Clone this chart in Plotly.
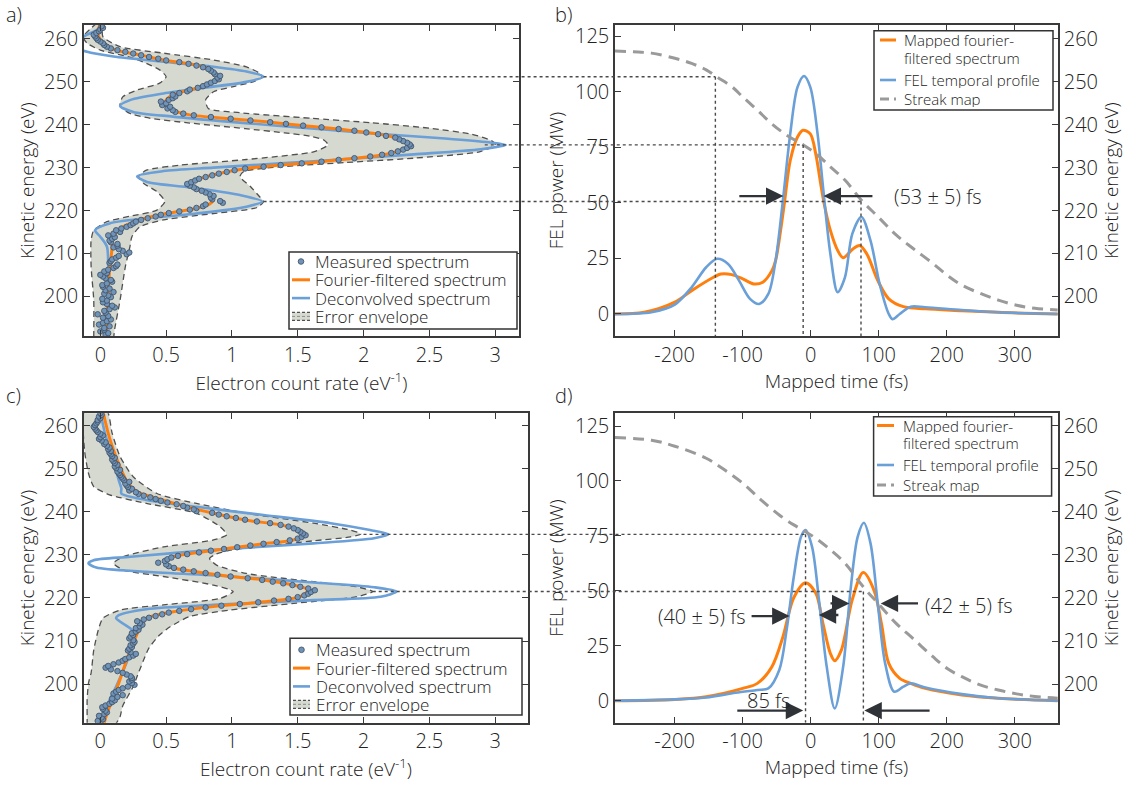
import plotly.graph_objects as go

W, H = 1133, 786

# ---------------- measured spectra (energy grid shared by both shots) ----------------
meas_energy = [
    191.0, 191.4, 191.8, 192.2, 192.6, 193.0, 193.4, 193.8, 194.2, 194.6,
    195.0, 195.4, 195.8, 196.2, 196.6, 197.0, 197.4, 197.8, 198.2, 198.6,
    199.0, 199.4, 199.8, 200.2, 200.6, 201.0, 201.4, 201.8, 202.2, 202.6,
    203.0, 203.4, 203.8, 204.2, 204.6, 205.0, 205.4, 205.8, 206.2, 206.6,
    207.0, 207.4, 207.8, 208.2, 208.6, 209.0, 209.4, 209.8, 210.2, 210.6,
    211.0, 211.4, 211.8, 212.2, 212.6, 213.0, 213.4, 213.8, 214.2, 214.6,
    215.0, 215.4, 215.8, 216.2, 216.6, 217.0, 217.4, 217.8, 218.2, 218.6,
    219.0, 219.4, 219.8, 220.2, 220.6, 221.0, 221.4, 221.8, 222.2, 222.6,
    223.0, 223.4, 223.8, 224.2, 224.6, 225.0, 225.4, 225.8, 226.2, 226.6,
    227.0, 227.4, 227.8, 228.2, 228.6, 229.0, 229.4, 229.8, 230.2, 230.6,
    231.0, 231.4, 231.8, 232.2, 232.6, 233.0, 233.4, 233.8, 234.2, 234.6,
    235.0, 235.4, 235.8, 236.2, 236.6, 237.0, 237.4, 237.8, 238.2, 238.6,
    239.0, 239.4, 239.8, 240.2, 240.6, 241.0, 241.4, 241.8, 242.2, 242.6,
    243.0, 243.4, 243.8, 244.2, 244.6, 245.0, 245.4, 245.8, 246.2, 246.6,
    247.0, 247.4, 247.8, 248.2, 248.6, 249.0, 249.4, 249.8, 250.2, 250.6,
    251.0, 251.4, 251.8, 252.2, 252.6, 253.0, 253.4, 253.8, 254.2, 254.6,
    255.0, 255.4, 255.8, 256.2, 256.6, 257.0, 257.4, 257.8, 258.2, 258.6,
    259.0, 259.4, 259.8, 260.2, 260.6, 261.0, 261.4, 261.8, 262.2, 262.6,
    263.0,
]
meas_rate_a = [
    0.04, 0.06, 0.00, 0.03, 0.03, 0.07, -0.01, 0.02, 0.05, 0.08,
    0.02, 0.06, -0.02, 0.04, 0.03, 0.07, 0.11, 0.09, 0.05, 0.02,
    0.05, 0.015, 0.08, 0.06, 0.03, 0.10, 0.04, 0.07, 0.02, 0.015,
    0.05, 0.09, 0.08, 0.04, 0.02, 0.00, 0.05, 0.03, 0.06, 0.10,
    0.12, 0.13, 0.07, 0.08, 0.09, 0.12, 0.14, 0.20, 0.22, 0.17,
    0.14, 0.10, 0.13, 0.13, 0.08, 0.07, 0.09, 0.11, 0.06, 0.10,
    0.15, 0.12, 0.16, 0.20, 0.23, 0.25, 0.27, 0.31, 0.36, 0.42,
    0.46, 0.52, 0.60, 0.68, 0.73, 0.78, 0.80, 0.93, 0.91, 0.85,
    0.84, 0.86, 0.83, 0.80, 0.77, 0.73, 0.71, 0.68, 0.66, 0.69,
    0.72, 0.75, 0.80, 0.85, 0.90, 0.96, 1.02, 1.10, 1.24, 1.37,
    1.53, 1.68, 1.81, 1.93, 2.05, 2.14, 2.21, 2.26, 2.30, 2.33,
    2.36, 2.35, 2.33, 2.30, 2.27, 2.24, 2.17, 2.11, 2.02, 1.93,
    1.81, 1.68, 1.54, 1.41, 1.29, 1.14, 0.99, 0.84, 0.71, 0.63,
    0.57, 0.55, 0.51, 0.53, 0.47, 0.50, 0.46, 0.52, 0.55, 0.57,
    0.55, 0.60, 0.66, 0.68, 0.74, 0.78, 0.81, 0.84, 0.87, 0.90,
    0.89, 0.91, 0.87, 0.86, 0.84, 0.82, 0.78, 0.73, 0.67, 0.60,
    0.50, 0.44, 0.37, 0.31, 0.25, 0.19, 0.13, 0.08, 0.05, 0.03,
    0.02, 0.00, -0.02, -0.03, -0.04, -0.05, -0.03, -0.01, 0.00, 0.02,
    0.01,
]
meas_rate_c = [
    0.00, -0.02, 0.02, 0.01, -0.01, 0.03, 0.05, 0.04, 0.02, 0.015,
    0.04, 0.07, 0.09, 0.11, 0.09, 0.13, 0.17, 0.10, 0.12, 0.14,
    0.17, 0.21, 0.26, 0.24, 0.22, 0.24, 0.24, 0.23, 0.20, 0.17,
    0.13, 0.08, 0.04, 0.06, 0.10, 0.14, 0.17, 0.19, 0.22, 0.25,
    0.27, 0.23, 0.21, 0.22, 0.24, 0.23, 0.25, 0.26, 0.25, 0.22,
    0.23, 0.25, 0.24, 0.27, 0.29, 0.27, 0.30, 0.32, 0.30, 0.28,
    0.33, 0.37, 0.42, 0.47, 0.52, 0.60, 0.69, 0.80, 0.92, 1.06,
    1.20, 1.32, 1.43, 1.50, 1.55, 1.58, 1.60, 1.63, 1.58, 1.52,
    1.46, 1.39, 1.31, 1.23, 1.12, 0.99, 0.89, 0.80, 0.71, 0.63,
    0.56, 0.52, 0.50, 0.44, 0.49, 0.51, 0.54, 0.59, 0.66, 0.75,
    0.84, 0.94, 1.04, 1.14, 1.24, 1.34, 1.44, 1.50, 1.53, 1.56,
    1.54, 1.52, 1.50, 1.47, 1.43, 1.37, 1.29, 1.19, 1.10, 1.03,
    0.96, 0.90, 0.85, 0.73, 0.71, 0.66, 0.63, 0.58, 0.51, 0.46,
    0.42, 0.38, 0.33, 0.29, 0.27, 0.22, 0.24, 0.21, 0.20, 0.19,
    0.22, 0.18, 0.17, 0.16, 0.15, 0.14, 0.13, 0.15, 0.12, 0.11,
    0.13, 0.11, 0.10, 0.09, 0.11, 0.09, 0.08, 0.07, 0.08, 0.06,
    0.07, 0.05, 0.03, 0.04, 0.01, -0.01, 0.00, 0.02, 0.00, -0.02,
    -0.03, -0.04, -0.05, -0.04, -0.03, -0.02, -0.02, 0.00, -0.01, 0.01,
    0.00,
]

# ---------------- shot 1: filtered / deconvolved spectra and error bounds ----------------
ff_a_energy = [190.5, 196.0, 201.0, 206.0, 210.0, 213.9, 215.8, 217.8, 219.3, 220.5,
               221.5, 222.6, 224.0, 225.2, 226.3, 227.5, 228.7, 229.8, 230.6, 231.2,
               232.0, 232.9, 234.0, 235.3, 236.1, 237.1, 238.0, 238.8, 239.7, 240.7,
               241.4, 242.3, 243.4, 244.5, 245.8, 247.3, 248.5, 250.0, 251.6, 253.2,
               254.3, 255.1, 256.3, 257.4, 259.0, 261.3, 263.6]
ff_a_rate = [0.045, 0.05, 0.06, 0.07, 0.085, 0.10, 0.15, 0.30, 0.50, 0.73,
             0.83, 0.86, 0.81, 0.71, 0.68, 0.76, 0.91, 1.11, 1.37, 1.62,
             1.87, 2.13, 2.28, 2.35, 2.31, 2.23, 2.07, 1.87, 1.57, 1.26,
             0.985, 0.68, 0.55, 0.50, 0.50, 0.58, 0.73, 0.86, 0.88, 0.81,
             0.66, 0.48, 0.30, 0.12, 0.02, -0.02, 0.0]

dec_a_energy = [190.5, 199.0, 207.0, 211.6, 213.9, 215.4, 217.0, 218.2, 219.3, 220.9,
                222.1, 223.6, 225.2, 226.7, 228.0, 229.2, 230.0, 231.0, 232.0, 233.1,
                234.3, 235.3, 235.9, 236.8, 237.8, 238.9, 239.9, 240.9, 241.9, 243.0,
                244.4, 245.8, 247.3, 248.7, 250.0, 251.2, 252.4, 253.5, 254.7, 255.9,
                257.0, 258.3, 259.8, 261.0, 262.3, 263.6]
dec_a_rate = [0.05, 0.06, 0.06, 0.05, 0.0, -0.04, 0.07, 0.35, 0.73, 1.11,
              1.23, 1.06, 0.73, 0.35, 0.28, 0.48, 0.86, 1.37, 1.87, 2.38,
              2.89, 3.08, 2.95, 2.62, 2.15, 1.70, 1.30, 0.90, 0.55, 0.25,
              0.15, 0.23, 0.48, 0.81, 1.11, 1.24, 1.11, 0.86, 0.48, 0.10,
              -0.10, -0.19, -0.17, -0.10, -0.02, 0.01]

env_a_hi_energy = [190.0, 192.5, 199.1, 206.9, 211.6, 213.9, 216.2, 217.8, 219.3, 220.7,
                   222.1, 223.2, 225.6, 227.9, 229.1, 230.2, 231.2, 232.2, 233.7, 235.3,
                   236.3, 237.8, 239.2, 240.5, 241.5, 242.8, 243.8, 245.8, 247.7, 248.9,
                   250.0, 251.1, 252.0, 253.5, 255.1, 256.7, 258.2, 260.5, 263.8]
env_a_hi_rate = [0.10, 0.11, 0.15, 0.19, 0.225, 0.24, 0.30, 0.48, 0.86, 1.19,
                 1.24, 1.21, 1.14, 1.06, 1.09, 1.37, 1.87, 2.38, 2.88, 3.00,
                 2.97, 2.82, 2.50, 2.05, 1.60, 1.06, 0.82, 0.80, 0.86, 1.01,
                 1.16, 1.23, 1.21, 1.11, 0.86, 0.48, 0.15, 0.02, 0.01]
env_a_lo_energy = [190.0, 199.1, 206.9, 213.1, 215.4, 217.4, 218.7, 220.1, 222.1, 224.4,
                   226.3, 227.9, 229.4, 230.6, 231.9, 233.7, 235.3, 236.4, 237.3, 238.1,
                   239.1, 240.4, 241.5, 242.7, 244.5, 246.5, 248.1, 249.7, 251.2, 252.8,
                   254.3, 255.7, 257.4, 259.0, 260.5, 262.5, 263.8]
env_a_lo_rate = [-0.05, -0.05, -0.07, -0.07, -0.05, 0.05, 0.23, 0.43, 0.49, 0.43,
                 0.33, 0.29, 0.35, 0.61, 1.11, 1.62, 1.73, 1.70, 1.60, 1.40,
                 1.10, 0.68, 0.38, 0.22, 0.15, 0.17, 0.28, 0.45, 0.50, 0.45,
                 0.35, 0.23, 0.0, -0.10, -0.13, -0.07, -0.02]

# ---------------- shot 2: filtered / deconvolved spectra and error bounds ----------------
ff_c_energy = [190.5, 191.6, 196.3, 200.2, 205.6, 210.2, 213.7, 215.3, 216.8, 218.0,
               219.1, 220.3, 221.9, 223.0, 224.2, 225.0, 226.1, 227.3, 228.4, 229.6,
               230.5, 231.6, 232.6, 233.5, 234.7, 236.0, 237.0, 238.1, 239.7, 241.6,
               243.2, 244.7, 246.7, 250.5, 254.4, 258.3, 263.4]
ff_c_rate = [0.03, 0.035, 0.09, 0.14, 0.20, 0.26, 0.31, 0.35, 0.555, 0.86,
             1.24, 1.52, 1.58, 1.47, 1.24, 0.99, 0.73, 0.52, 0.49, 0.555,
             0.73, 0.99, 1.24, 1.47, 1.54, 1.49, 1.37, 1.11, 0.86, 0.61,
             0.43, 0.28, 0.21, 0.15, 0.10, 0.06, 0.02]

dec_c_energy = [190.5, 191.6, 196.3, 199.4, 207.1, 212.2, 213.7, 215.3, 216.0, 217.4,
                218.4, 219.5, 220.3, 221.5, 222.5, 223.6, 225.0, 226.1, 227.1, 228.1,
                228.8, 229.6, 231.2, 232.7, 233.9, 234.8, 235.8, 237.4, 239.3, 241.2,
                242.8, 244.3, 245.5, 247.4, 252.1, 258.3, 263.4]
dec_c_rate = [0.01, 0.02, 0.07, 0.12, 0.225, 0.25, 0.19, 0.12, 0.14, 0.35,
              0.86, 1.62, 2.13, 2.25, 2.08, 1.62, 0.99, 0.35, -0.03, -0.09,
              -0.05, 0.23, 0.86, 1.62, 2.08, 2.19, 2.05, 1.75, 1.24, 0.73,
              0.35, 0.16, 0.16, 0.14, 0.10, 0.035, 0.0]

env_c_hi_energy = [190.3, 192.4, 194.9, 199.4, 201.8, 206.4, 208.4, 211.4, 213.3, 215.7,
                   217.2, 218.8, 220.3, 221.5, 222.6, 223.8, 225.7, 227.7, 229.2, 230.2,
                   231.2, 232.0, 233.3, 234.2, 234.9, 235.8, 237.4, 239.7, 242.0, 244.3,
                   248.2, 252.9, 258.3, 263.5]
env_c_hi_rate = [0.11, 0.15, 0.17, 0.25, 0.28, 0.34, 0.37, 0.45, 0.53, 0.68,
                 0.99, 1.49, 1.95, 2.07, 1.95, 1.62, 1.11, 0.88, 0.83, 0.88,
                 1.00, 1.25, 1.62, 1.90, 1.98, 1.90, 1.62, 1.11, 0.73, 0.43,
                 0.25, 0.15, 0.09, 0.05]
env_c_lo_energy = [190.3, 191.6, 196.4, 200.2, 202.6, 207.9, 212.6, 215.3, 217.2, 218.4,
                   219.9, 221.5, 223.0, 225.0, 226.5, 228.1, 229.6, 231.9, 233.5, 234.7,
                   236.6, 239.7, 242.0, 244.0, 245.9, 249.0, 254.4, 263.5]
env_c_lo_rate = [-0.10, -0.10, -0.10, -0.09, -0.07, -0.05, -0.015, 0.02, 0.15, 0.48,
                 0.91, 1.01, 0.86, 0.48, 0.175, 0.10, 0.175, 0.48, 0.86, 0.96,
                 0.91, 0.73, 0.35, 0.07, -0.05, -0.09, -0.12, -0.12]

# ---------------- temporal profiles (shot 1) ----------------
map_b_time = [-287.6, -244.7, -199.6, -174.9, -142.7, -132.0, -115.9, -99.8, -83.7, -70.3,
              -56.9, -51.5, -43.5, -38.1, -30.0, -19.3, -11.3, -0.5, 7.5, 15.6,
              20.9, 29.0, 39.7, 47.8, 61.2, 71.9, 82.6, 98.7, 114.8, 136.3,
              168.5, 222.2, 275.8, 363.0]
map_b_power = [0, 0.75, 5.3, 10.5, 16.5, 18.0, 17.7, 15.8, 13.5, 14.3,
               19.5, 24.0, 39.0, 51.0, 69.0, 79.6, 82.6, 81.0, 72.0, 57.0,
               48.0, 37.6, 28.6, 25.3, 29.0, 30.8, 27.0, 15.0, 6.8, 3.3,
               2.3, 1.5, 0.75, 0]
fel_b_time = [-287.6, -234.0, -199.6, -174.9, -153.5, -137.4, -121.3, -105.2, -89.1, -75.7,
              -62.2, -51.5, -40.8, -30.0, -19.3, -9.7, -0.5, 10.2, 18.2, 29.0,
              39.7, 50.4, 61.2, 74.6, 88.0, 101.4, 114.8, 120.2, 130.9, 147.0,
              168.5, 222.2, 275.8, 363.0]
fel_b_power = [0, 0.8, 4.2, 12.0, 21.0, 24.8, 22.5, 15.0, 6.8, 4.5,
               9.0, 24.0, 51.0, 81.0, 102.0, 107.0, 102.0, 81.0, 57.0, 27.0,
               9.8, 16.5, 36.0, 43.6, 33.0, 13.5, 0.0, -2.3, 0.0, 3.3,
               3.0, 1.8, 0.75, 0]
streak_b_time = [-287.6, -260.8, -234.0, -199.6, -174.9, -153.5, -137.4, -115.9, -99.8, -78.3,
                 -56.9, -35.4, -10.7, 7.5, 29.0, 50.4, 74.6, 98.7, 125.6, 150.2,
                 179.2, 200.7, 222.2, 249.0, 275.8, 302.6, 329.5, 363.0]
streak_b_energy = [257.2, 257.0, 256.7, 255.5, 254.3, 252.8, 251.1, 248.9, 246.5, 243.4,
                   240.2, 237.6, 235.3, 233.3, 230.2, 227.1, 222.4, 218.6, 214.3, 211.2,
                   207.7, 204.9, 202.6, 200.7, 199.1, 197.9, 197.2, 196.8]

# ---------------- temporal profiles (shot 2) ----------------
map_d_time = [-287.6, -199.6, -153.5, -99.8, -78.3, -56.9, -40.8, -24.7, -7.5, 7.5,
              18.2, 29.0, 35.4, 45.1, 61.2, 77.3, 93.4, 104.1, 114.8, 130.9,
              147.0, 168.5, 222.2, 275.8, 363.0]
map_d_power = [0, 0.6, 1.8, 5.6, 7.9, 15.5, 29.0, 47.0, 53.7, 49.0,
               35.0, 21.5, 18.2, 23.0, 46.0, 58.3, 50.0, 35.0, 17.0, 10.2,
               7.9, 5.6, 2.6, 1.1, 0]
fel_d_time = [-287.6, -199.6, -153.5, -110.5, -78.3, -62.2, -46.1, -35.4, -24.7, -14.0,
              -7.5, 2.1, 12.9, 23.6, 35.4, 47.8, 58.5, 69.2, 78.3, 88.0,
              98.7, 109.5, 122.9, 136.3, 147.0, 168.5, 222.2, 275.8, 363.0]
fel_d_power = [0, 0.6, 1.5, 3.6, 4.9, 5.6, 14.0, 32.0, 56.5, 74.7,
               77.7, 70.0, 44.0, 15.5, -3.5, 15.5, 50.0, 74.7, 81.0, 71.6,
               44.0, 17.0, 4.1, 6.4, 7.9, 6.0, 3.0, 1.1, 0]
streak_d_time = [-287.6, -234.0, -199.6, -153.5, -126.6, -99.8, -73.0, -46.1, -24.7, -7.5,
                 7.5, 29.0, 50.4, 77.3, 98.7, 125.6, 150.2, 179.2, 200.7, 222.2,
                 249.0, 275.8, 302.6, 329.5, 363.0]
streak_d_energy = [257.3, 256.7, 255.3, 252.5, 249.8, 246.7, 242.8, 239.3, 237.0, 235.4,
                   233.9, 231.2, 228.1, 222.6, 218.8, 214.1, 210.6, 206.4, 203.6, 201.7,
                   199.8, 198.6, 197.7, 197.1, 196.7]

# ---------------- spectral peaks mapped onto the time axis ----------------
peak_b_energy = [251.2, 235.3, 222.1]
peak_a_rate = [1.24, 2.92, 1.24]
peak_b_time = [-140.0, -11.0, 74.0]
peak_d_energy = [234.8, 221.5]
peak_c_rate = [2.00, 2.07]
peak_d_time = [-7.5, 77.5]

# FWHM / separation markers: (tail time, head time, power)
arrows_b = [(-107, -40, 53), (93, 19, 53)]
arrows_d = [(-89, -31, 38.5), (43, 12, 39), (27, 57, 44.3), (160, 103, 44.3),
            (-110, -11, -4.5), (177, 79, -4.5)]
labels_b = [("(53 ± 5) fs", 187, 53)]
labels_d = [("(40 ± 5) fs", -161, 38.5), ("(42 ± 5) fs", 232, 43.5), ("85 fs", -62, 0.3)]

tick_rate = [0, 0.5, 1, 1.5, 2, 2.5, 3]
tick_rate_text = ["0", "0.5", "1", "1.5", "2", "2.5", "3"]
tick_energy = [200, 210, 220, 230, 240, 250, 260]
tick_time = [-200, -100, 0, 100, 200, 300]
tick_time_text = ["-200", "-100", "0", "100", "200", "300"]
tick_power = [0, 25, 50, 75, 100, 125]

spec_legend_labels = ["Measured spectrum", "Fourier-filtered spectrum", "Deconvolved spectrum", "Error envelope"]
time_legend_labels = [["Mapped fourier-", "filtered spectrum"], ["FEL temporal profile"], ["Streak map"]]

# ---------------- geometry (pixels) ----------------
ax_a = dict(x=(84, 519), y=(25, 336), xr=(-0.124, 3.18), yr=(190.74, 263.26))
ax_b = dict(x=(615, 1058), y=(25, 336), xr=(-287.5, 363.5), yr=(-9.9, 129.95))
ax_c = dict(x=(84, 528), y=(413.3, 722.7), xr=(-0.124, 3.25), yr=(191.0, 262.95))
ax_d = dict(x=(615, 1058), y=(413.3, 722.7), xr=(-287.5, 363.5), yr=(-10.0, 130.8))


def xdom(p):
    return [p[0] / W, p[1] / W]


def ydom(p):
    return [1 - p[1] / H, 1 - p[0] / H]


def to_px(v, pix, rng):
    return (pix[0] + (v - rng[0]) / (rng[1] - rng[0]) * (pix[1] - pix[0])) / W


def to_py(v, pix, rng):
    return 1 - (pix[1] - (v - rng[0]) / (rng[1] - rng[0]) * (pix[1] - pix[0])) / H


FONT = "Open Sans"
INK = "#222222"
ORANGE = "#ff7f0e"
BLUE = "#6a9fd8"
ENV_FILL = "#d6d9d0"
ENV_EDGE = "#505050"
DOT_FILL = "#7093b8"
DOT_EDGE = "#44566a"
STREAK = "#9a9a9a"
GUIDE = "#4a4a4a"


def font(size):
    return dict(family=FONT, size=size, color=INK, weight=300)


fig = go.Figure()


def spectrum_panel(xa, ya, mE, mR, fE, fR, dE, dR, hE, hR, lE, lR):
    fig.add_trace(go.Scatter(
        x=hR + lR[::-1], y=hE + lE[::-1], mode="lines", fill="toself", fillcolor=ENV_FILL,
        line=dict(color=ENV_EDGE, width=1.3, dash="6px,4px", shape="spline", smoothing=0.6),
        name="Error envelope", xaxis=xa, yaxis=ya, hoverinfo="skip"))
    fig.add_trace(go.Scatter(
        x=dR, y=dE, mode="lines", line=dict(color=BLUE, width=2.6, shape="spline", smoothing=0.8),
        name="Deconvolved spectrum", xaxis=xa, yaxis=ya))
    fig.add_trace(go.Scatter(
        x=fR, y=fE, mode="lines", line=dict(color=ORANGE, width=3, shape="spline", smoothing=0.8),
        name="Fourier-filtered spectrum", xaxis=xa, yaxis=ya))
    fig.add_trace(go.Scatter(
        x=mR, y=mE, mode="markers",
        marker=dict(size=5.5, color=DOT_FILL, line=dict(color=DOT_EDGE, width=0.9)),
        name="Measured spectrum", xaxis=xa, yaxis=ya))


def time_panel(xa, ya, ya2, sT, sE, mT, mP, fT, fP):
    fig.add_trace(go.Scatter(
        x=sT, y=sE, mode="lines", line=dict(color=STREAK, width=3, dash="11px,7px", shape="spline"),
        name="Streak map", xaxis=xa, yaxis=ya2))
    fig.add_trace(go.Scatter(
        x=mT, y=mP, mode="lines", line=dict(color=ORANGE, width=3, shape="spline", smoothing=0.9),
        name="Mapped fourier-filtered spectrum", xaxis=xa, yaxis=ya))
    fig.add_trace(go.Scatter(
        x=fT, y=fP, mode="lines", line=dict(color=BLUE, width=2.6, shape="spline", smoothing=0.9),
        name="FEL temporal profile", xaxis=xa, yaxis=ya))


spectrum_panel("x", "y", meas_energy, meas_rate_a, ff_a_energy, ff_a_rate,
               dec_a_energy, dec_a_rate, env_a_hi_energy, env_a_hi_rate, env_a_lo_energy, env_a_lo_rate)
time_panel("x2", "y2", "y3", streak_b_time, streak_b_energy,
           map_b_time, map_b_power, fel_b_time, fel_b_power)
spectrum_panel("x3", "y4", meas_energy, meas_rate_c, ff_c_energy, ff_c_rate,
               dec_c_energy, dec_c_rate, env_c_hi_energy, env_c_hi_rate, env_c_lo_energy, env_c_lo_rate)
time_panel("x4", "y5", "y6", streak_d_time, streak_d_energy,
           map_d_time, map_d_power, fel_d_time, fel_d_power)


def axis(pix, rng, anchor, title, **kw):
    d = dict(domain=pix, range=list(rng), anchor=anchor, showline=True, linecolor="#3a3a3a",
             linewidth=1.5, ticks="inside", ticklen=6, tickwidth=1.3, tickcolor="#3a3a3a",
             showgrid=False, zeroline=False, automargin=False, tickfont=font(20),
             title=dict(text=title, font=font(19)))
    d.update(kw)
    return d


fig.update_layout(
    width=W, height=H, autosize=False, margin=dict(l=0, r=0, t=0, b=0), showlegend=False,
    paper_bgcolor="white", plot_bgcolor="white", font=font(16),
    xaxis=axis(xdom(ax_a["x"]), ax_a["xr"], "y", "Electron count rate (eV<sup>-1</sup>)",
               mirror="ticks", tickvals=tick_rate, ticktext=tick_rate_text),
    yaxis=axis(ydom(ax_a["y"]), ax_a["yr"], "x", "Kinetic energy (eV)", mirror="ticks", tickvals=tick_energy),
    xaxis2=axis(xdom(ax_b["x"]), ax_b["xr"], "y2", "Mapped time (fs)",
                mirror="ticks", tickvals=tick_time, ticktext=tick_time_text),
    yaxis2=axis(ydom(ax_b["y"]), ax_b["yr"], "x2", "FEL power (MW)", tickvals=tick_power),
    yaxis3=axis(ydom(ax_b["y"]), ax_a["yr"], "x2", "Kinetic energy (eV)", overlaying="y2",
                side="right", tickvals=tick_energy),
    xaxis3=axis(xdom(ax_c["x"]), ax_c["xr"], "y4", "Electron count rate (eV<sup>-1</sup>)",
                mirror="ticks", tickvals=tick_rate, ticktext=tick_rate_text),
    yaxis4=axis(ydom(ax_c["y"]), ax_c["yr"], "x3", "Kinetic energy (eV)", mirror="ticks", tickvals=tick_energy),
    xaxis4=axis(xdom(ax_d["x"]), ax_d["xr"], "y5", "Mapped time (fs)",
                mirror="ticks", tickvals=tick_time, ticktext=tick_time_text),
    yaxis5=axis(ydom(ax_d["y"]), ax_d["yr"], "x4", "FEL power (MW)", tickvals=tick_power),
    yaxis6=axis(ydom(ax_d["y"]), ax_c["yr"], "x4", "Kinetic energy (eV)", overlaying="y5",
                side="right", tickvals=tick_energy),
)
for k in ["xaxis", "xaxis2", "xaxis3", "xaxis4"]:
    fig.layout[k].title.standoff = 6
for k in ["yaxis", "yaxis4"]:
    fig.layout[k].title.standoff = 4
for k in ["yaxis2", "yaxis5", "yaxis3", "yaxis6"]:
    fig.layout[k].title.standoff = 6

shapes = []
ann = []

# ---- guide lines: spectral peaks carried over to the streak map and down to the time axis ----
dotline = dict(color=GUIDE, width=1.4, dash="dot")
for E, r0, t in zip(peak_b_energy, peak_a_rate, peak_b_time):
    yp = to_py(E, ax_a["y"], ax_a["yr"])
    shapes.append(dict(type="line", xref="paper", yref="paper",
                       x0=to_px(r0, ax_a["x"], ax_a["xr"]), x1=to_px(t, ax_b["x"], ax_b["xr"]),
                       y0=yp, y1=yp, line=dotline))
    shapes.append(dict(type="line", xref="x2", yref="y3", x0=t, x1=t, y0=E, y1=ax_a["yr"][0], line=dotline))
for E, r0, t in zip(peak_d_energy, peak_c_rate, peak_d_time):
    yp = to_py(E, ax_c["y"], ax_c["yr"])
    shapes.append(dict(type="line", xref="paper", yref="paper",
                       x0=to_px(r0, ax_c["x"], ax_c["xr"]), x1=to_px(t, ax_d["x"], ax_d["xr"]),
                       y0=yp, y1=yp, line=dotline))
    shapes.append(dict(type="line", xref="x4", yref="y6", x0=t, x1=t, y0=E, y1=ax_c["yr"][0], line=dotline))


# ---- legend boxes (compact line spacing) ----
def P(x, y):
    return x / W, 1 - y / H


def legend_frame(x0, x1, y0, y1):
    a, b = P(x0, y1)
    c, d = P(x1, y0)
    shapes.append(dict(type="rect", xref="paper", yref="paper", x0=a, y0=b, x1=c, y1=d,
                       fillcolor="white", line=dict(color="#333", width=1.5), layer="above"))


def legend_line(x0, x1, y, **line):
    a, b = P(x0, y)
    c, _ = P(x1, y)
    shapes.append(dict(type="line", xref="paper", yref="paper", x0=a, x1=c, y0=b, y1=b,
                       line=line, layer="above"))


def legend_text(x, y, txt, size, box_h):
    a, b = P(x, y)
    ann.append(dict(x=a, y=b, xref="paper", yref="paper", text=txt, showarrow=False,
                    xanchor="left", yanchor="middle", height=box_h, borderpad=0, font=font(size)))


def spectrum_legend(x0, x1, y0, y1, rows, sx0, sx1, tx, size):
    legend_frame(x0, x1, y0, y1)
    # measured dot
    cx = (sx0 + sx1) / 2
    a, b = P(cx - 2.8, rows[0] - 2.8)
    c, d = P(cx + 2.8, rows[0] + 2.8)
    shapes.append(dict(type="circle", xref="paper", yref="paper", x0=a, x1=c, y0=d, y1=b,
                       fillcolor=DOT_FILL, line=dict(color=DOT_EDGE, width=0.9), layer="above"))
    legend_line(sx0, sx1, rows[1], color=ORANGE, width=3)
    legend_line(sx0, sx1, rows[2], color=BLUE, width=2.6)
    a, b = P(sx0, rows[3] + 4)
    c, d = P(sx1, rows[3] - 4)
    shapes.append(dict(type="rect", xref="paper", yref="paper", x0=a, x1=c, y0=b, y1=d,
                       fillcolor=ENV_FILL, line=dict(width=0), layer="above"))
    legend_line(sx0, sx1, rows[3] - 4, color=ENV_EDGE, width=1.2, dash="3px,2px")
    legend_line(sx0, sx1, rows[3], color="#8a8f86", width=1.0, dash="3px,2px")
    legend_line(sx0, sx1, rows[3] + 4, color=ENV_EDGE, width=1.2, dash="3px,2px")
    for y, txt in zip(rows, spec_legend_labels):
        legend_text(tx, y, txt, size, 17)


def time_legend(x0, x1, y0, y1, rows, sx0, sx1, tx, size, gap):
    legend_frame(x0, x1, y0, y1)
    legend_line(sx0, sx1, rows[0], color=ORANGE, width=3)
    legend_line(sx0, sx1, rows[1], color=BLUE, width=2.6)
    legend_line(sx0, sx1, rows[2], color=STREAK, width=3, dash="9px,5px")
    for y, lines in zip(rows, time_legend_labels):
        for i, txt in enumerate(lines):
            legend_text(tx, y + i * gap, txt, size, 16)


spectrum_legend(289, 517, 252, 329, [261.5, 279.8, 298.1, 316.4], 292, 310, 314, 17)
spectrum_legend(290, 522, 638.3, 715, [649.8, 668.1, 686.4, 704.3], 293, 310, 315, 17)
time_legend(874, 1053, 30.7, 110.0, [40.0, 80.0, 99.0], 880, 896, 903, 15, 18.3)
time_legend(873.6, 1051.6, 416.7, 496.0, [425.5, 465.0, 485.0], 877, 894, 902, 15, 17.8)

# ---- arrows and width labels ----
ARROW = "#2f3338"
for xa, ya, arrows in [("x2", "y2", arrows_b), ("x4", "y5", arrows_d)]:
    for tail, head, p in arrows:
        ann.append(dict(x=head, y=p, ax=tail, ay=p, xref=xa, yref=ya, axref=xa, ayref=ya, text="",
                        showarrow=True, arrowhead=2, arrowsize=1.45, arrowwidth=2.4, arrowcolor=ARROW))
for xa, ya, labels in [("x2", "y2", labels_b), ("x4", "y5", labels_d)]:
    for txt, t, p in labels:
        ann.append(dict(x=t, y=p, xref=xa, yref=ya, text=txt, showarrow=False, font=font(20)))
for txt, px, py in [("a)", 4, 15), ("b)", 553, 15), ("c)", 4, 395), ("d)", 553, 395)]:
    a, b = P(px, py)
    ann.append(dict(x=a, y=b, xref="paper", yref="paper", text=txt, showarrow=False,
                    xanchor="left", yanchor="middle", font=font(20)))

fig.update_layout(shapes=shapes, annotations=ann)

fig.write_html("out.html")
